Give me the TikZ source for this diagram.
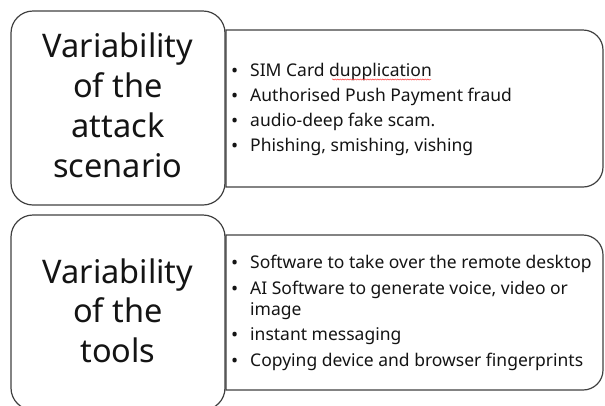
\documentclass[tikz,border=0pt]{standalone}
\usepackage{fontspec}
\setmainfont{Noto Sans}
\usetikzlibrary{decorations.pathmorphing}
\definecolor{edge}{HTML}{404040}
\definecolor{ink}{HTML}{141414}
\begin{document}
\begin{tikzpicture}[x=1pt,y=-1pt,
  box/.style={draw=edge, line width=1.2pt},
  bigtxt/.style={anchor=base, inner sep=0pt, font=\fontsize{32.5}{40}\selectfont, text=ink},
  bul/.style={anchor=base west, inner sep=0pt, font=\fontsize{19}{21}\selectfont, text=ink},
  itemtxt/.style={anchor=base west, inner sep=0pt, font=\fontsize{17.5}{21}\selectfont, text=ink},
  spell/.style={draw=red!75, line width=0.5pt, decorate, decoration={snake, amplitude=0.6pt, segment length=2.5pt}}
]
\useasboundingbox (0,0) rectangle (605,405);
% right boxes
\draw[box] (226,30) -- (583,30) arc[start angle=-90,end angle=0,radius=20] -- (603,167) arc[start angle=0,end angle=90,radius=20] -- (226,187) -- cycle;
\draw[box] (226,235) -- (583,235) arc[start angle=-90,end angle=0,radius=20] -- (603,370) arc[start angle=0,end angle=90,radius=20] -- (226,390) -- cycle;
% left boxes
\draw[box, rounded corners=22pt] (11,11) rectangle (225,205);
\draw[box, rounded corners=22pt] (11,215) rectangle (225,410);
% left texts
\node[bigtxt] (a1) at (118,57) {Variability};
\node[bigtxt] (a2) at (118,97) {of the};
\node[bigtxt] (a3) at (118,137) {attack};
\node[bigtxt] (a4) at (118,177) {scenario};
\node[bigtxt] (c1) at (118,283) {Variability};
\node[bigtxt] (c2) at (118,322) {of the};
\node[bigtxt] (c3) at (118,362) {tools};
% top bullets
\node[bul] (p1) at (231,77) {•};
\node[itemtxt] (s1) at (250,76) {SIM Card dupplication};
\node[bul] (p2) at (231,102) {•};
\node[itemtxt] (s2) at (250,101) {Authorised Push Payment fraud};
\node[bul] (p3) at (231,127) {•};
\node[itemtxt] (s3) at (250,126) {audio-deep fake scam.};
\node[bul] (p4) at (231,152) {•};
\node[itemtxt] (s4) at (250,151) {Phishing, smishing, vishing};
\draw[spell] (332,79.5) -- (431,79.5);
% bottom bullets
\node[bul] (q1) at (231,269) {•};
\node[itemtxt] (u1) at (250,268) {Software to take over the remote desktop};
\node[bul] (q2) at (231,295) {•};
\node[itemtxt] (u2) at (250,294) {AI Software to generate voice, video or};
\node[itemtxt] (u2b) at (250,315) {image};
\node[bul] (q3) at (231,341) {•};
\node[itemtxt] (u3) at (250,340) {instant messaging};
\node[bul] (q4) at (231,367) {•};
\node[itemtxt] (u4) at (250,366) {Copying device and browser fingerprints};
\end{tikzpicture}
\end{document}
